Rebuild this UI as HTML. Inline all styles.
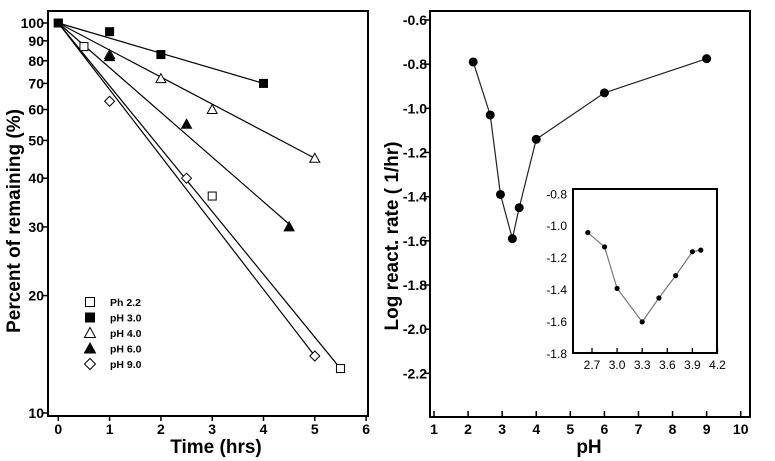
<!DOCTYPE html>
<html><head><meta charset="utf-8"><style>
body{margin:0;background:#fff;}
svg{display:block;font-family:"Liberation Sans",Arial,sans-serif;}
</style></head><body>
<svg id="c" width="775" height="461" xmlns="http://www.w3.org/2000/svg"></svg>
<script>
// Left chart data
const timeTicks=[0,1,2,3,4,5,6];
const pctTicks=[10,20,30,40,50,60,70,80,90,100];
const seriesNames=["Ph 2.2","pH 3.0","pH 4.0","pH 6.0","pH 9.0"];
const seriesMarkers=["osq","fsq","otri","ftri","odia"];
const s22T=[0,0.5,3,5.5], s22V=[100,87,36,13];
const s30T=[0,1,2,4], s30V=[100,95,83,70];
const s40T=[1,2,3,5], s40V=[83,72,60,45];
const s60T=[1,2.5,4.5], s60V=[82,55,30];
const s90T=[1,2.5,5], s90V=[63,40,14];
const fitEndT=[5.5,4,5,4.5,5], fitEndV=[13,70,45,30.5,14];
// Right chart data
const phTicks=[1,2,3,4,5,6,7,8,9,10];
const rateTicks=[-0.6,-0.8,-1.0,-1.2,-1.4,-1.6,-1.8,-2.0,-2.2];
const mainPH=[2.15,2.65,2.95,3.3,3.5,4,6,9];
const mainRate=[-0.79,-1.03,-1.39,-1.59,-1.45,-1.14,-0.93,-0.775];
const insetTicksX=[2.7,3.0,3.3,3.6,3.9,4.2];
const insetTicksY=[-0.8,-1.0,-1.2,-1.4,-1.6,-1.8];
const insetPH=[2.65,2.85,3.0,3.3,3.5,3.7,3.9,4.0];
const insetRate=[-1.04,-1.13,-1.39,-1.6,-1.45,-1.31,-1.16,-1.15];

const svg=document.getElementById('c');
const NS="http://www.w3.org/2000/svg";
function mk(tag,attrs,parent){const e=document.createElementNS(NS,tag);for(const k in attrs)e.setAttribute(k,attrs[k]);(parent||svg).appendChild(e);return e;}
function txt(x,y,s,size,anchor,parent){const t=mk('text',{x:x,y:y,'font-size':size,'font-weight':'bold','text-anchor':anchor||'middle'},parent);t.textContent=s;return t;}

// ---- Left chart
const lx=t=>58.3+t*51.3;
const ly=v=>413-Math.log10(v/10)*390;
const gL=mk('g',{});


const fL=mk('rect',{x:48,y:11,width:320,height:405,fill:'none',stroke:'#000','stroke-width':2},gL);


timeTicks.forEach(t=>{
  mk('line',{x1:lx(t),x2:lx(t),y1:416,y2:421,stroke:'#000','stroke-width':1.5},gL);
  const e=txt(lx(t),434,String(t),14,'middle',gL);
  
  
});
pctTicks.forEach(v=>{
  mk('line',{x1:43,x2:48,y1:ly(v),y2:ly(v),stroke:'#000','stroke-width':1.5},gL);
  const e=txt(44,ly(v)+5,String(v),14,'end',gL);
  
  
});
let xt=txt(216,453,'Time (hrs)',19,'middle',gL);


let yt=txt(0,0,'Percent of remaining (%)',19,'middle',gL);
yt.setAttribute('transform','translate(20,221) rotate(-90)');


function marker(type,x,y,s,parent){
  let e;
  if(type==='osq'||type==='fsq') e=mk('rect',{x:x-s,y:y-s,width:2*s,height:2*s,fill:type==='fsq'?'#000':'#fff',stroke:'#000','stroke-width':1},parent);
  else if(type==='otri'||type==='ftri') e=mk('polygon',{points:`${x},${y-s-1} ${x-s-1},${y+s} ${x+s+1},${y+s}`,fill:type==='ftri'?'#000':'#fff',stroke:'#000','stroke-width':1},parent);
  else e=mk('polygon',{points:`${x},${y-s-1} ${x+s+1},${y} ${x},${y+s+1} ${x-s-1},${y}`,fill:'#fff',stroke:'#000','stroke-width':1},parent);
  return e;
}
fitEndT.forEach((t,i)=>{
  const l=mk('line',{x1:lx(0),y1:ly(100),x2:lx(t),y2:ly(fitEndV[i]),stroke:'#000','stroke-width':1.2},gL);
  
  
});
const allT=[s22T,s30T,s40T,s60T,s90T], allV=[s22V,s30V,s40V,s60V,s90V];
allT.forEach((ts,i)=>ts.forEach((t,j)=>{
  const m=marker(seriesMarkers[i],lx(t),ly(allV[i][j]),4,gL);
  
  
}));
seriesNames.forEach((n,i)=>{
  const y=303+i*15.5;
  const m=marker(seriesMarkers[i],90,y-1,4.5,gL);
  
  
  const e=txt(110,y+3,n,10.5,'start',gL);
  
  
});

// ---- Right chart
const rx=p=>434+(p-1)*34.08;
const ry=v=>20+(-0.6-v)/0.2*44.17;
const gR=mk('g',{});


const fR=mk('rect',{x:430,y:11,width:320,height:406,fill:'none',stroke:'#000','stroke-width':2},gR);


phTicks.forEach(p=>{
  mk('line',{x1:rx(p),x2:rx(p),y1:411,y2:417,stroke:'#000','stroke-width':1.5},gR);
  const e=txt(rx(p),434,String(p),14,'middle',gR);
  
  
});
rateTicks.forEach(v=>{
  mk('line',{x1:425,x2:430,y1:ry(v),y2:ry(v),stroke:'#000','stroke-width':1.5},gR);
  const e=txt(427,ry(v)+5,v.toFixed(1),14,'end',gR);
  
  
});
xt=txt(589,453,'pH',19,'middle',gR);


yt=txt(0,0,'Log react. rate ( 1/hr)',19,'middle',gR);
yt.setAttribute('transform','translate(398,236) rotate(-90)');


const ml=mk('polyline',{points:mainPH.map((p,i)=>rx(p)+','+ry(mainRate[i])).join(' '),fill:'none',stroke:'#222','stroke-width':1.2},gR);


mainPH.forEach((p,i)=>{
  const c=mk('circle',{cx:rx(p),cy:ry(mainRate[i]),r:4.5,fill:'#000'},gR);
  
  
});
// Inset
const ix=p=>592+(p-2.7)/0.3*25.1;
const iy=v=>194.3+(-0.8-v)/0.2*31.9;
const gI=mk('g',{},gR);


const fI=mk('rect',{x:573,y:189,width:144,height:164,fill:'#fff',stroke:'#000','stroke-width':2},gI);


insetTicksX.forEach(p=>{
  mk('line',{x1:ix(p),x2:ix(p),y1:348,y2:353,stroke:'#000','stroke-width':1.3},gI);
  const e=mk('text',{x:ix(p),y:369,'font-size':12,'text-anchor':'middle'},gI);
  e.textContent=p.toFixed(1);
  
  
});
insetTicksY.forEach(v=>{
  const e=mk('text',{x:567,y:iy(v)+4,'font-size':12,'text-anchor':'end'},gI);
  e.textContent=v.toFixed(1);
  
  
});
const il=mk('polyline',{points:insetPH.map((p,i)=>ix(p)+','+iy(insetRate[i])).join(' '),fill:'none',stroke:'#777','stroke-width':1.2},gI);


insetPH.forEach((p,i)=>{
  const c=mk('circle',{cx:ix(p),cy:iy(insetRate[i]),r:2.6,fill:'#000'},gI);
  
  
});
</script>
</body></html>
